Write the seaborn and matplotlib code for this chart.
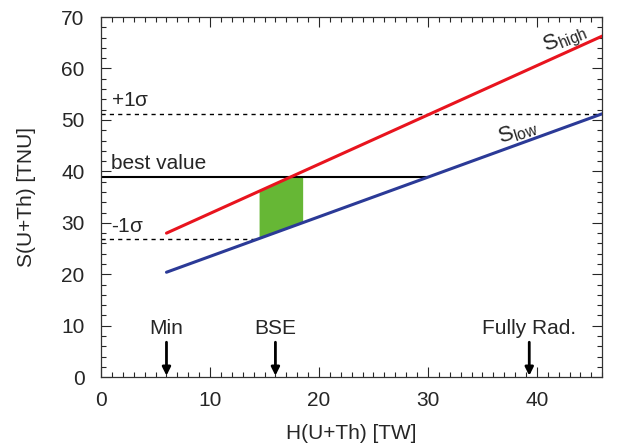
import numpy as np
import seaborn as sns
import matplotlib.pyplot as plt
from matplotlib.ticker import MultipleLocator

# endpoints of the two model lines
h_ends = [6, 46]
s_high = [28.0, 66.3]
s_low = [20.4, 51.2]

best_value = 38.9
plus_sigma = 51.2
minus_sigma = 26.8

# green allowed region (H range)
green_h = [14.5, 18.5]

marker_names = ['Min', 'BSE', 'Fully Rad.']
marker_h = [6.0, 16.0, 39.3]

sns.set_style('ticks')
plt.rcParams['font.family'] = ['Liberation Sans', 'DejaVu Sans']
plt.rcParams['mathtext.fontset'] = 'custom'
plt.rcParams['mathtext.rm'] = 'Liberation Sans'
plt.rcParams['mathtext.it'] = 'Liberation Sans'

fig = plt.figure(figsize=(6.28, 4.48), dpi=100)
ax = fig.add_axes([0.161, 0.158, 0.798, 0.804])

red = '#e8141e'
blue = '#2b3a97'
green = '#66b735'

def on_line(ys, h):
    return np.interp(h, h_ends, ys)

def cross(ys, level):
    return np.interp(level, ys, h_ends)

# green band
gx = np.linspace(green_h[0], green_h[1], 50)
ax.fill_between(gx, on_line(s_low, gx), np.minimum(on_line(s_high, gx), best_value),
                color=green, lw=0, zorder=1)

sns.lineplot(x=h_ends, y=s_high, color=red, lw=2.2, ax=ax, zorder=3)
sns.lineplot(x=h_ends, y=s_low, color=blue, lw=2.2, ax=ax, zorder=3)

ax.plot([0, cross(s_low, best_value)], [best_value, best_value], color='black', lw=1.5, zorder=2)
ax.plot([0, 46], [plus_sigma, plus_sigma], color='black', lw=1, ls=(0, (3, 3)), zorder=2)
ax.plot([0, cross(s_low, minus_sigma)], [minus_sigma, minus_sigma], color='black', lw=1,
        ls=(0, (3, 3)), zorder=2)

fs = 15
ax.text(0.9, plus_sigma + 0.7, r'+1$\sigma$', fontsize=fs, va='bottom')
ax.text(0.9, minus_sigma + 0.7, r'-1$\sigma$', fontsize=fs, va='bottom')
ax.text(0.9, best_value + 0.7, 'best value', fontsize=fs, va='bottom')
ax.text(42.6, 65.6, r'S$_{\mathrm{high}}$', fontsize=16, rotation=22, ha='center', va='center')
ax.text(38.2, 47.6, r'S$_{\mathrm{low}}$', fontsize=16, rotation=18, ha='center', va='center')

for name, h in zip(marker_names, marker_h):
    ax.annotate('', xy=(h, 0.3), xytext=(h, 6.8),
                arrowprops=dict(arrowstyle='-|>', color='black', lw=2, mutation_scale=12,
                                shrinkA=0, shrinkB=0))
    ax.text(h, 7.6, name, fontsize=fs, ha='center', va='bottom')

ax.set_xlim(0, 46)
ax.set_ylim(0, 70)
ax.xaxis.set_major_locator(MultipleLocator(10))
ax.xaxis.set_minor_locator(MultipleLocator(1))
ax.yaxis.set_major_locator(MultipleLocator(10))
ax.yaxis.set_minor_locator(MultipleLocator(2))
ax.tick_params(which='both', direction='in', top=True, right=True, labelsize=fs, width=0.8)
ax.tick_params(which='major', length=7)
ax.tick_params(axis='x', which='major', pad=10)
ax.tick_params(axis='y', which='major', pad=12)
ax.tick_params(which='minor', length=3.5)
for sp in ax.spines.values():
    sp.set_linewidth(0.9)
    sp.set_color('#333333')

ax.set_xlabel('H(U+Th) [TW]', fontsize=fs, labelpad=10)
ax.set_ylabel('S(U+Th) [TNU]', fontsize=fs, labelpad=18)

fig.savefig('out.png', dpi=100)
